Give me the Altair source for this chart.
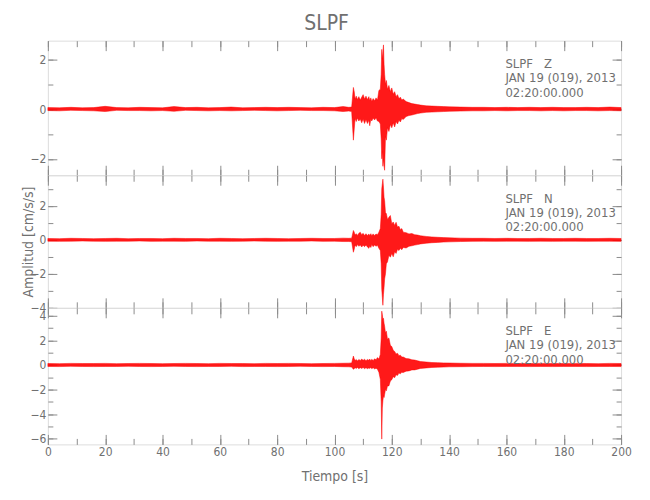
import altair as alt
import pandas as pd

# ---------------- data ----------------
TIME = [
    0, 4, 8, 12, 16, 20, 24, 28, 32, 36,
    40, 44, 48, 52, 56, 60, 64, 68, 72, 76,
    80, 84, 88, 92, 96, 100, 103, 105, 106, 106.6,
    106.9, 107.2, 107.6, 108, 108.5, 109, 109.5, 110, 110.5, 111,
    111.5, 112, 112.3, 112.7, 113, 113.5, 114, 114.5, 115, 115.5,
    116, 116.3, 116.5, 116.7, 116.9, 117.1, 117.3, 117.5, 117.8, 118.1,
    118.5, 119, 119.5, 120, 120.5, 121, 121.5, 122, 122.5, 123,
    123.5, 124, 125, 126, 127, 128, 129, 130, 132, 134,
    136, 138, 140, 144, 148, 152, 156, 160, 164, 168,
    172, 176, 180, 184, 188, 192, 196, 200,
]

Z_HI = [
    0.06, 0.05, 0.07, 0.05, 0.06, 0.11, 0.06, 0.05, 0.07, 0.06,
    0.05, 0.10, 0.06, 0.07, 0.05, 0.06, 0.08, 0.05, 0.06, 0.07,
    0.06, 0.07, 0.06, 0.05, 0.07, 0.06, 0.10, 0.07, 0.08, 0.87,
    0.70, 0.40, 0.52, 0.38, 0.50, 0.36, 0.48, 0.58, 0.40, 0.52,
    0.38, 0.50, 0.34, 0.45, 0.30, 0.42, 0.33, 0.45, 0.36, 0.75,
    0.80, 1.40, 2.40, 2.00, 2.30, 2.58, 1.80, 1.40, 1.00, 1.15,
    0.80, 0.95, 0.70, 0.85, 0.60, 0.70, 0.50, 0.58, 0.42, 0.48,
    0.36, 0.40, 0.30, 0.26, 0.22, 0.20, 0.18, 0.16, 0.13, 0.12,
    0.11, 0.10, 0.09, 0.08, 0.07, 0.07, 0.06, 0.07, 0.06, 0.07,
    0.06, 0.07, 0.06, 0.06, 0.07, 0.06, 0.08, 0.06,
]
Z_LO = [
    -0.06, -0.07, -0.05, -0.06, -0.07, -0.10, -0.05, -0.06, -0.06, -0.07,
    -0.06, -0.09, -0.05, -0.06, -0.07, -0.06, -0.07, -0.06, -0.05, -0.06,
    -0.07, -0.06, -0.05, -0.06, -0.06, -0.07, -0.10, -0.08, -0.10, -1.25,
    -0.80, -0.38, -0.50, -0.36, -0.48, -0.40, -0.55, -0.40, -0.58, -0.42,
    -0.58, -0.45, -0.67, -0.40, -0.48, -0.36, -0.44, -0.35, -0.48, -0.50,
    -0.60, -1.20, -2.00, -1.70, -2.30, -2.00, -2.30, -2.46, -1.10, -1.25,
    -0.75, -0.90, -0.62, -0.75, -0.55, -0.72, -0.50, -0.60, -0.45, -0.52,
    -0.38, -0.42, -0.30, -0.26, -0.24, -0.21, -0.18, -0.16, -0.13, -0.12,
    -0.11, -0.10, -0.09, -0.08, -0.07, -0.07, -0.06, -0.07, -0.06, -0.06,
    -0.07, -0.06, -0.07, -0.06, -0.06, -0.07, -0.06, -0.07,
]

N_HI = [
    0.08, 0.07, 0.09, 0.08, 0.07, 0.08, 0.09, 0.07, 0.08, 0.08,
    0.07, 0.09, 0.08, 0.08, 0.07, 0.09, 0.08, 0.07, 0.08, 0.09,
    0.08, 0.07, 0.08, 0.09, 0.08, 0.08, 0.10, 0.09, 0.10, 0.55,
    0.45, 0.28, 0.36, 0.26, 0.38, 0.45, 0.30, 0.38, 0.25, 0.36,
    0.26, 0.34, 0.25, 0.36, 0.24, 0.35, 0.26, 0.34, 0.30, 0.45,
    0.66, 1.50, 3.00, 3.30, 3.57, 3.10, 2.50, 2.30, 1.60, 1.55,
    1.20, 1.33, 1.43, 0.95, 1.05, 0.85, 1.03, 0.75, 0.80, 0.60,
    0.66, 0.45, 0.42, 0.35, 0.37, 0.30, 0.28, 0.24, 0.20, 0.17,
    0.15, 0.13, 0.12, 0.10, 0.09, 0.09, 0.08, 0.09, 0.08, 0.08,
    0.09, 0.08, 0.08, 0.09, 0.08, 0.08, 0.09, 0.08,
]
N_LO = [
    -0.08, -0.09, -0.08, -0.07, -0.08, -0.09, -0.08, -0.08, -0.07, -0.09,
    -0.08, -0.08, -0.09, -0.07, -0.08, -0.08, -0.09, -0.08, -0.07, -0.08,
    -0.09, -0.08, -0.08, -0.07, -0.09, -0.08, -0.10, -0.10, -0.11, -0.73,
    -0.55, -0.30, -0.40, -0.28, -0.38, -0.30, -0.42, -0.32, -0.40, -0.30,
    -0.42, -0.50, -0.36, -0.45, -0.28, -0.40, -0.30, -0.38, -0.32, -0.50,
    -0.63, -1.40, -2.90, -3.40, -3.85, -3.20, -2.80, -2.30, -2.00, -1.40,
    -1.30, -0.90, -1.02, -0.80, -1.00, -0.70, -0.80, -0.55, -0.63, -0.50,
    -0.58, -0.45, -0.48, -0.38, -0.35, -0.31, -0.28, -0.24, -0.20, -0.17,
    -0.15, -0.13, -0.12, -0.10, -0.09, -0.08, -0.09, -0.08, -0.08, -0.09,
    -0.08, -0.09, -0.08, -0.08, -0.09, -0.08, -0.08, -0.09,
]

E_HI = [
    0.12, 0.11, 0.13, 0.12, 0.12, 0.13, 0.11, 0.12, 0.13, 0.12,
    0.11, 0.12, 0.13, 0.12, 0.11, 0.13, 0.12, 0.12, 0.11, 0.13,
    0.12, 0.13, 0.12, 0.11, 0.12, 0.13, 0.14, 0.15, 0.17, 0.73,
    0.50, 0.36, 0.45, 0.32, 0.45, 0.36, 0.48, 0.38, 0.46, 0.35,
    0.45, 0.38, 0.48, 0.34, 0.46, 0.36, 0.50, 0.42, 0.60, 0.48,
    0.86, 2.20, 4.38, 4.10, 3.70, 3.80, 3.40, 3.16, 2.60, 2.75,
    2.10, 2.20, 1.60, 1.50, 1.20, 1.10, 0.90, 0.95, 0.76, 0.80,
    0.65, 0.65, 0.52, 0.50, 0.42, 0.40, 0.34, 0.28, 0.24, 0.20,
    0.19, 0.17, 0.16, 0.14, 0.13, 0.13, 0.12, 0.13, 0.12, 0.12,
    0.13, 0.12, 0.12, 0.13, 0.12, 0.11, 0.13, 0.12,
]
E_LO = [
    -0.12, -0.13, -0.11, -0.12, -0.13, -0.12, -0.12, -0.11, -0.12, -0.13,
    -0.12, -0.11, -0.12, -0.13, -0.12, -0.12, -0.11, -0.13, -0.12, -0.12,
    -0.13, -0.12, -0.11, -0.12, -0.13, -0.12, -0.14, -0.15, -0.17, -0.35,
    -0.30, -0.22, -0.28, -0.20, -0.30, -0.22, -0.28, -0.20, -0.30, -0.22,
    -0.30, -0.24, -0.28, -0.20, -0.30, -0.22, -0.32, -0.26, -0.35, -0.60,
    -1.17, -3.00, -6.03, -3.50, -2.90, -2.50, -2.65, -2.40, -2.00, -2.10,
    -1.70, -1.70, -1.30, -1.20, -0.95, -1.03, -0.80, -0.85, -0.66, -0.72,
    -0.60, -0.62, -0.50, -0.48, -0.40, -0.40, -0.34, -0.28, -0.24, -0.20,
    -0.18, -0.17, -0.15, -0.14, -0.13, -0.12, -0.13, -0.12, -0.12, -0.13,
    -0.12, -0.13, -0.12, -0.12, -0.13, -0.12, -0.12, -0.13,
]

COMPONENTS = ["Z", "N", "E"]
STATION = "SLPF"
DATE_LINE = "JAN 19 (019), 2013"
TIME_LINE = "02:20:00.000"
Y_DOMAINS = {"Z": [-2.66, 2.75], "N": [-4.0, 3.8], "E": [-6.46, 4.65]}
Y_MAJOR = {"Z": [-2, 0, 2], "N": [-4, -2, 0, 2], "E": [-6, -4, -2, 0, 2, 4]}
Y_MINOR = {"Z": [-2, -1, 0, 1, 2], "N": [-4, -3, -2, -1, 0, 1, 2, 3],
           "E": [-6, -5, -4, -3, -2, -1, 0, 1, 2, 3, 4]}
X_MAJOR = [0, 20, 40, 60, 80, 100, 120, 140, 160, 180, 200]
X_MINOR = [0, 10, 20, 30, 40, 50, 60, 70, 80, 90, 100, 110, 120, 130, 140,
           150, 160, 170, 180, 190, 200]
HEIGHTS = {"Z": 135, "N": 133, "E": 137}

SERIES = {"Z": (Z_HI, Z_LO), "N": (N_HI, N_LO), "E": (E_HI, E_LO)}

FONT = "DejaVu Sans Condensed, DejaVu Sans, sans-serif"
GRAY = "#8c8c8c"
TXT = "#707070"
RED = "#ff0000"
WIDTH = 575


def x_axis(orient, values, size, labels=False, title=None):
    kw = dict(orient=orient, values=values, tickSize=size, offset=-size,
              domain=False, grid=False, labels=labels, tickColor=GRAY,
              tickWidth=1, title=title)
    if labels:
        kw.update(labelFont=FONT, labelFontSize=12, labelColor=TXT,
                  labelPadding=2, format="d", labelFlush=False)
    if title:
        kw.update(titleFont=FONT, titleFontSize=14, titleColor=TXT,
                  titleFontWeight="normal", titlePadding=12)
    return alt.Axis(**kw)


def y_axis(orient, values, size, labels=False, title=None):
    kw = dict(orient=orient, values=values, tickSize=size, offset=-size,
              domain=False, grid=False, labels=labels, tickColor=GRAY,
              tickWidth=1, title=title)
    if labels:
        kw.update(labelFont=FONT, labelFontSize=12, labelColor=TXT,
                  labelPadding=2, format="d")
    if title:
        kw.update(titleFont=FONT, titleFontSize=14, titleColor=TXT,
                  titleFontWeight="normal", titleX=-21)
    return alt.Axis(**kw)


def panel(comp, is_bottom, is_middle):
    hi, lo = SERIES[comp]
    df = pd.DataFrame({"t": TIME, "hi": hi, "lo": lo})
    xs = alt.Scale(domain=[0, 200], nice=False, zero=False)
    ys = alt.Scale(domain=Y_DOMAINS[comp], nice=False, zero=False)
    base = alt.Chart(df)

    trace = base.mark_area(
        fill=RED, fillOpacity=0.9, stroke=RED, strokeWidth=0.5, strokeOpacity=1
    ).encode(
        x=alt.X("t:Q", scale=xs,
                axis=x_axis("bottom", X_MAJOR, 10, labels=is_bottom,
                            title="Tiempo [s]" if is_bottom else None)),
        y=alt.Y("hi:Q", scale=ys,
                axis=y_axis("left", Y_MAJOR[comp], 9, labels=True,
                            title="Amplitud [cm/s/s]" if is_middle else None)),
        y2="lo:Q",
    )
    ghost = base.mark_line(opacity=0)
    minor_bl = ghost.encode(
        x=alt.X("t:Q", scale=xs, axis=x_axis("bottom", X_MINOR, 6)),
        y=alt.Y("hi:Q", scale=ys, axis=y_axis("left", Y_MINOR[comp], 5)),
    )
    major_tr = ghost.encode(
        x=alt.X("t:Q", scale=xs, axis=x_axis("top", X_MAJOR, 10)),
        y=alt.Y("hi:Q", scale=ys, axis=y_axis("right", Y_MAJOR[comp], 9)),
    )
    minor_tr = ghost.encode(
        x=alt.X("t:Q", scale=xs, axis=x_axis("top", X_MINOR, 6)),
        y=alt.Y("hi:Q", scale=ys, axis=y_axis("right", Y_MINOR[comp], 5)),
    )
    label = "\n".join([f"{STATION}\u00a0\u00a0\u00a0{comp}", DATE_LINE, TIME_LINE])
    text = alt.Chart(pd.DataFrame({"label": [label]})).mark_text(
        align="left", baseline="top", lineBreak="\n", lineHeight=14.3,
        fontSize=13, font=FONT, color=TXT
    ).encode(x=alt.value(459), y=alt.value(17.5), text="label:N")

    return alt.layer(trace, minor_bl, major_tr, minor_tr, text).resolve_axis(
        x="independent", y="independent"
    ).properties(width=WIDTH, height=HEIGHTS[comp])


panels = [panel(c, c == "E", c == "N") for c in COMPONENTS]

chart = alt.vconcat(*panels, spacing=0, bounds="flush").properties(
    title=alt.TitleParams(STATION, font=FONT, fontSize=21, fontWeight="normal",
                          color=TXT, anchor="middle", offset=6),
    padding={"left": 13, "top": 4, "right": 10, "bottom": 10},
).configure_view(stroke=GRAY, strokeWidth=1).configure(background="white")

chart.save("out.html", embed_options={"renderer": "svg", "actions": False})
